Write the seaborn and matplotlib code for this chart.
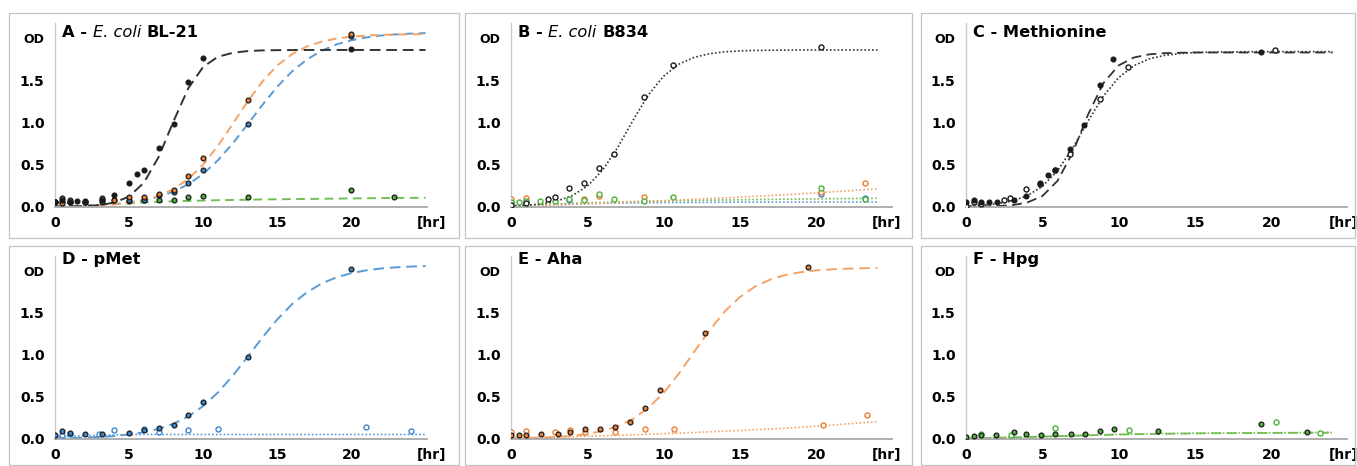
import matplotlib
matplotlib.use("Agg")
import matplotlib.pyplot as plt
import seaborn as sns
from matplotlib.offsetbox import TextArea, HPacker, AnchoredOffsetbox
from matplotlib.patches import Rectangle

# ---------------- data ----------------
fit_t25 = list(range(26))   # panels A, D fitted curves
fit_t24 = list(range(25))   # panels B, C, E, F fitted curves

# A - E. coli BL-21 (filled markers)
a_met_t = [0, 0.5, 1, 1.5, 2, 3.2, 4, 5, 5.5, 6, 7, 8, 9, 10, 20]
a_met_od = [0.05, 0.08, 0.05, 0.07, 0.07, 0.08, 0.14, 0.28, 0.39, 0.43, 0.70, 0.98, 1.48, 1.77, 1.87]
a_aha_t = [0, 0.5, 1, 2, 3.2, 4, 5, 6, 7, 8, 9, 10, 13, 20]
a_aha_od = [0.05, 0.04, 0.05, 0.06, 0.08, 0.08, 0.11, 0.11, 0.15, 0.20, 0.36, 0.58, 1.27, 2.05]
a_pmet_t = [0, 0.5, 1, 2, 3.2, 5, 6, 7, 8, 9, 10, 13, 20]
a_pmet_od = [0.05, 0.10, 0.08, 0.06, 0.10, 0.08, 0.08, 0.14, 0.17, 0.28, 0.43, 0.98, 2.03]
a_hpg_t = [0, 0.5, 1, 2, 3.2, 4, 5, 6, 7, 8, 9, 10, 13, 20, 22.9]
a_hpg_od = [0.05, 0.05, 0.06, 0.06, 0.06, 0.08, 0.07, 0.08, 0.08, 0.08, 0.12, 0.13, 0.12, 0.20, 0.11]
a_met_fit = [0.001, 0.003, 0.008, 0.019, 0.049, 0.121, 0.285, 0.593, 1.015, 1.408, 1.66, 1.78, 1.826,
             1.847, 1.855, 1.858, 1.859, 1.86, 1.86, 1.86, 1.86, 1.86, 1.86, 1.86, 1.86, 1.86]
a_aha_fit = [0.0035, 0.0059, 0.0099, 0.0167, 0.028, 0.047, 0.078, 0.129, 0.208, 0.33, 0.50, 0.725, 0.985,
             1.25, 1.487, 1.676, 1.811, 1.902, 1.96, 1.996, 2.018, 2.03, 2.039, 2.043, 2.046, 2.048]
a_pmet_fit = [0.0053, 0.0084, 0.013, 0.0204, 0.0318, 0.0494, 0.0764, 0.118, 0.179, 0.267, 0.39, 0.552, 0.753,
              0.977, 1.209, 1.424, 1.606, 1.747, 1.852, 1.926, 1.975, 2.009, 2.031, 2.045, 2.054, 2.06]
a_hpg_fit = [0.005, 0.008, 0.013, 0.02, 0.03, 0.04, 0.05, 0.058, 0.064, 0.069, 0.073, 0.077, 0.08,
             0.083, 0.086, 0.088, 0.09, 0.092, 0.094, 0.096, 0.098, 0.1, 0.102, 0.104, 0.105, 0.106]

# B - E. coli B834 (open markers)
b_met_t = [0, 1, 2.4, 2.9, 3.8, 4.8, 5.75, 6.75, 8.7, 10.6, 20.3]
b_met_od = [0.02, 0.04, 0.09, 0.11, 0.22, 0.28, 0.46, 0.63, 1.30, 1.68, 1.89]
b_aha_t = [0, 1, 4.8, 5.75, 8.7, 20.3, 23.2]
b_aha_od = [0.09, 0.10, 0.09, 0.13, 0.12, 0.17, 0.285]
b_hpg_t = [0, 0.5, 1, 1.9, 2.9, 3.8, 4.8, 5.75, 6.75, 8.7, 10.6, 20.3, 23.2]
b_hpg_od = [0.05, 0.05, 0.07, 0.07, 0.07, 0.09, 0.08, 0.15, 0.09, 0.07, 0.12, 0.225, 0.09]
b_pmet_t = [0, 1, 3.8, 20.3, 23.2]
b_pmet_od = [0.05, 0.05, 0.08, 0.15, 0.10]
b_met_fit = [0.0085, 0.017, 0.034, 0.067, 0.130, 0.244, 0.434, 0.707, 1.028, 1.328, 1.55, 1.692, 1.773,
             1.815, 1.838, 1.849, 1.854, 1.857, 1.858, 1.86, 1.86, 1.86, 1.86, 1.86, 1.86]
b_aha_fit = [0.01, 0.015, 0.02, 0.025, 0.03, 0.037, 0.043, 0.05, 0.057, 0.064, 0.072, 0.08, 0.088,
             0.096, 0.105, 0.114, 0.123, 0.133, 0.143, 0.153, 0.164, 0.176, 0.188, 0.2, 0.213]
b_hpg_fit = [0.01, 0.018, 0.026, 0.033, 0.04, 0.046, 0.051, 0.056, 0.06, 0.064, 0.068, 0.071, 0.074,
             0.077, 0.08, 0.082, 0.085, 0.087, 0.089, 0.091, 0.093, 0.095, 0.097, 0.098, 0.1]
b_pmet_fit = [0.005, 0.01, 0.017, 0.024, 0.03, 0.035, 0.039, 0.042, 0.045, 0.047, 0.049, 0.05, 0.051,
              0.052, 0.053, 0.054, 0.054, 0.055, 0.055, 0.055, 0.056, 0.056, 0.056, 0.056, 0.056]

# C - Methionine
c_bl21_t = [0, 0.5, 1, 1.5, 2, 3.15, 3.9, 4.85, 5.35, 5.85, 6.8, 7.75, 8.75, 9.65, 19.3]
c_bl21_od = [0.05, 0.08, 0.05, 0.06, 0.06, 0.08, 0.13, 0.28, 0.38, 0.44, 0.69, 0.97, 1.45, 1.75, 1.84]
c_b834_t = [0, 0.5, 1, 2.5, 2.9, 3.9, 4.85, 5.85, 6.8, 8.75, 10.6, 20.25]
c_b834_od = [0.01, 0.06, 0.03, 0.08, 0.10, 0.21, 0.27, 0.43, 0.62, 1.28, 1.66, 1.86]
c_bl21_fit = [0.0009, 0.0025, 0.0068, 0.018, 0.049, 0.126, 0.308, 0.649, 1.096, 1.468, 1.677, 1.771, 1.808,
              1.822, 1.827, 1.83, 1.83, 1.83, 1.83, 1.83, 1.83, 1.83, 1.83, 1.83, 1.83]
c_b834_fit = [0.0085, 0.017, 0.034, 0.066, 0.129, 0.241, 0.429, 0.699, 1.017, 1.314, 1.533, 1.674, 1.754,
              1.796, 1.818, 1.829, 1.834, 1.837, 1.838, 1.84, 1.84, 1.84, 1.84, 1.84, 1.84]

# D - pMet
d_bl21_t = [0, 0.5, 1, 2, 3.2, 5, 6, 7, 8, 9, 10, 13, 20]
d_bl21_od = [0.05, 0.09, 0.07, 0.06, 0.06, 0.07, 0.10, 0.13, 0.16, 0.28, 0.44, 0.98, 2.02]
d_b834_t = [0.5, 1, 3, 4, 6, 7, 9, 11, 21, 24]
d_b834_od = [0.04, 0.06, 0.06, 0.10, 0.12, 0.08, 0.10, 0.11, 0.14, 0.09]
d_bl21_fit = [0.0053, 0.0084, 0.013, 0.0204, 0.0318, 0.0494, 0.0764, 0.118, 0.179, 0.267, 0.39, 0.552, 0.753,
              0.977, 1.209, 1.424, 1.606, 1.747, 1.852, 1.926, 1.975, 2.009, 2.031, 2.045, 2.054, 2.06]
d_b834_fit = [0.02, 0.03, 0.035, 0.04, 0.045, 0.048, 0.05, 0.05, 0.05, 0.05, 0.05, 0.05, 0.05,
              0.05, 0.05, 0.05, 0.05, 0.05, 0.05, 0.05, 0.05, 0.05, 0.05, 0.05, 0.05, 0.05]

# E - Aha
e_bl21_t = [0, 0.5, 1, 1.95, 3.1, 3.85, 4.85, 5.8, 6.8, 7.8, 8.75, 9.75, 12.7, 19.45]
e_bl21_od = [0.05, 0.04, 0.05, 0.06, 0.06, 0.08, 0.11, 0.12, 0.14, 0.20, 0.37, 0.58, 1.26, 2.05]
e_b834_t = [0, 1, 2.9, 3.85, 4.85, 6.8, 8.75, 10.7, 20.4, 23.3]
e_b834_od = [0.08, 0.09, 0.08, 0.10, 0.08, 0.08, 0.11, 0.11, 0.16, 0.28]
e_bl21_fit = [0.0043, 0.0072, 0.0121, 0.0202, 0.0336, 0.0553, 0.0915, 0.149, 0.237, 0.369, 0.548, 0.779,
              1.038, 1.294, 1.519, 1.692, 1.818, 1.901, 1.955, 1.988, 2.009, 2.021, 2.029, 2.034, 2.036]
e_b834_fit = [0.01, 0.013, 0.017, 0.021, 0.025, 0.03, 0.035, 0.04, 0.046, 0.053, 0.06, 0.067, 0.074,
              0.082, 0.09, 0.098, 0.107, 0.116, 0.126, 0.137, 0.149, 0.162, 0.176, 0.19, 0.205]

# F - Hpg
f_bl21_t = [0, 0.5, 1, 1.95, 3.15, 3.9, 4.9, 5.85, 6.85, 7.8, 8.75, 9.7, 12.6, 19.35, 22.3]
f_bl21_od = [0.02, 0.03, 0.04, 0.04, 0.08, 0.06, 0.05, 0.06, 0.06, 0.06, 0.09, 0.11, 0.09, 0.18, 0.08]
f_b834_t = [1, 2.95, 5.85, 10.65, 20.3, 23.2]
f_b834_od = [0.06, 0.05, 0.13, 0.10, 0.20, 0.07]
f_bl21_fit = [0.0, 0.005, 0.01, 0.015, 0.02, 0.025, 0.03, 0.035, 0.04, 0.045, 0.05, 0.053, 0.056,
              0.059, 0.061, 0.063, 0.065, 0.066, 0.067, 0.068, 0.069, 0.07, 0.07, 0.071, 0.072]
f_b834_fit = [0.005, 0.009, 0.013, 0.017, 0.021, 0.026, 0.031, 0.036, 0.041, 0.046, 0.051, 0.055, 0.058,
              0.061, 0.063, 0.065, 0.067, 0.068, 0.069, 0.07, 0.071, 0.072, 0.073, 0.074, 0.075]

x_ticks = [0, 5, 10, 15, 20]
x_tick_labels = ["0", "5", "10", "15", "20"]
y_ticks = [0, 0.5, 1.0, 1.5, 2.0]
y_tick_labels = ["0.0", "0.5", "1.0", "1.5", "OD"]

# ---------------- style ----------------
sns.set_theme(style="white")
plt.rcParams["font.family"] = ["DejaVu Sans"]

BLACK = "#1a1a1a"
DARK = "#333333"
OR_L, OR_M = "#F5A267", "#ED7D31"
BL_L, BL_M = "#5B9BD5", "#3D86CF"
GR_L, GR_M = "#72BE55", "#4DAF3A"

W, H = 1357, 466
fig = plt.figure(figsize=(W / 100, H / 100), dpi=100)
fig.patch.set_facecolor("white")

col_axes = [(55, 427), (511, 892), (966, 1347)]
row_axes = [(23, 206.7), (256, 438.7)]
col_box = [(9, 459), (465, 912), (921, 1355)]
row_box = [(13, 238), (246, 465)]

for (bx0, bx1) in col_box:
    for (by0, by1) in row_box:
        fig.add_artist(Rectangle((bx0 / W, 1 - by1 / H), (bx1 - bx0) / W, (by1 - by0) / H,
                                 transform=fig.transFigure, fill=False,
                                 edgecolor="#c3c3c3", linewidth=0.9))


def make_ax(ci, ri):
    l, r = col_axes[ci]
    t, b = row_axes[ri]
    ax = fig.add_axes([l / W, 1 - b / H, (r - l) / W, (b - t) / H])
    ax.set_facecolor("none")
    return ax


def fit_line(ax, t, y, color, dashes, lw):
    sns.lineplot(x=t, y=y, ax=ax, color=color, linewidth=lw, estimator=None,
                 sort=False, legend=False, zorder=2)
    ln = ax.lines[-1]
    ln.set_dashes(dashes)
    ln.set_dash_capstyle("butt")


def points(ax, t, y, face, edge, hollow=False, s=12, lw=0.9):
    sns.scatterplot(x=t, y=y, ax=ax, s=s, color=face, edgecolor=edge,
                    linewidth=lw, legend=False, zorder=3)
    if hollow:
        ax.collections[-1].set_facecolor("white")


def finish(ax, xmax, hr_x, title_parts, ty, width_px):
    ax.set_xlim(0, xmax)
    ax.set_ylim(0, 2.18)
    ax.set_xticks(x_ticks)
    ax.set_xticklabels(x_tick_labels, fontweight="bold", fontsize=10, color="black")
    ax.set_yticks(y_ticks)
    ax.set_yticklabels(y_tick_labels, fontweight="bold", fontsize=10, color="black")
    ax.get_yticklabels()[-1].set_fontsize(9)
    ax.tick_params(axis="x", length=0, pad=6.5)
    ax.tick_params(axis="y", length=0, pad=7.5)
    ax.set_xlabel("")
    ax.set_ylabel("")
    ax.grid(False)
    for s in ["top", "right"]:
        ax.spines[s].set_visible(False)
    ax.spines["left"].set_color("#c8c8c8")
    ax.spines["left"].set_linewidth(1.0)
    ax.spines["bottom"].set_color("#a8a8a8")
    ax.spines["bottom"].set_linewidth(1.3)
    ax.annotate("[hr]", xy=(hr_x, 0), xycoords=("data", "axes fraction"),
                xytext=(0, -6.5), textcoords="offset points", ha="center", va="top",
                fontsize=10, fontweight="bold", color="black", annotation_clip=False)
    children = []
    for txt, style in title_parts:
        props = dict(fontsize=11.7, color="black")
        if style == "i":
            props["fontstyle"] = "italic"
            props["fontweight"] = "normal"
        else:
            props["fontweight"] = "bold"
        children.append(TextArea(txt, textprops=props))
    box = HPacker(children=children, align="baseline", pad=0, sep=4)
    anch = AnchoredOffsetbox(loc="center left", child=box, pad=0, borderpad=0, frameon=False,
                             bbox_to_anchor=(7 / width_px, ty), bbox_transform=ax.transAxes)
    ax.add_artist(anch)


DASH_K = (5.5, 3.0)
DASH_C = (4.5, 2.8)
DOT = (1.0, 1.3)

# ---- A ----
ax = make_ax(0, 0)
fit_line(ax, fit_t25, a_hpg_fit, GR_L, DASH_C, 1.4)
fit_line(ax, fit_t25, a_pmet_fit, BL_L, DASH_C, 1.4)
fit_line(ax, fit_t25, a_aha_fit, OR_L, DASH_C, 1.4)
fit_line(ax, fit_t25, a_met_fit, DARK, DASH_K, 1.4)
points(ax, a_hpg_t, a_hpg_od, GR_M, BLACK)
points(ax, a_pmet_t, a_pmet_od, BL_M, BLACK)
points(ax, a_aha_t, a_aha_od, OR_M, BLACK)
points(ax, a_met_t, a_met_od, BLACK, BLACK)
finish(ax, 25.1, 25.4, [("A -", "b"), ("E. coli", "i"), ("BL-21", "b")], 0.9456, 372)

# ---- B ----
ax = make_ax(1, 0)
fit_line(ax, fit_t24, b_pmet_fit, BL_L, DOT, 1.2)
fit_line(ax, fit_t24, b_hpg_fit, GR_L, DOT, 1.2)
fit_line(ax, fit_t24, b_aha_fit, OR_L, DOT, 1.2)
fit_line(ax, fit_t24, b_met_fit, DARK, DOT, 1.2)
points(ax, b_pmet_t, b_pmet_od, BL_M, BL_M, hollow=True, s=13, lw=1.0)
points(ax, b_aha_t, b_aha_od, OR_M, OR_M, hollow=True, s=13, lw=1.0)
points(ax, b_hpg_t, b_hpg_od, GR_M, GR_M, hollow=True, s=13, lw=1.0)
points(ax, b_met_t, b_met_od, BLACK, BLACK, hollow=True, s=13, lw=1.0)
finish(ax, 24.95, 24.6, [("B -", "b"), ("E. coli", "i"), ("B834", "b")], 0.9456, 381)

# ---- C ----
ax = make_ax(2, 0)
fit_line(ax, fit_t24, c_b834_fit, DARK, DOT, 1.2)
fit_line(ax, fit_t24, c_bl21_fit, DARK, DASH_K, 1.3)
points(ax, c_b834_t, c_b834_od, BLACK, BLACK, hollow=True, s=13, lw=1.0)
points(ax, c_bl21_t, c_bl21_od, BLACK, BLACK)
finish(ax, 24.95, 24.7, [("C - Methionine", "b")], 0.9456, 381)

# ---- D ----
ax = make_ax(0, 1)
fit_line(ax, fit_t25, d_b834_fit, BL_L, DOT, 1.2)
fit_line(ax, fit_t25, d_bl21_fit, BL_L, DASH_K, 1.4)
points(ax, d_b834_t, d_b834_od, BL_M, BL_M, hollow=True, s=13, lw=1.0)
points(ax, d_bl21_t, d_bl21_od, BL_M, BLACK)
finish(ax, 25.1, 25.4, [("D - pMet", "b")], 0.98, 372)

# ---- E ----
ax = make_ax(1, 1)
fit_line(ax, fit_t24, e_b834_fit, OR_L, DOT, 1.2)
fit_line(ax, fit_t24, e_bl21_fit, OR_L, DASH_K, 1.4)
points(ax, e_b834_t, e_b834_od, OR_M, OR_M, hollow=True, s=13, lw=1.0)
points(ax, e_bl21_t, e_bl21_od, OR_M, BLACK)
finish(ax, 24.95, 24.6, [("E - Aha", "b")], 0.98, 381)

# ---- F ----
ax = make_ax(2, 1)
fit_line(ax, fit_t24, f_b834_fit, GR_L, DOT, 1.2)
fit_line(ax, fit_t24, f_bl21_fit, GR_L, DASH_K, 1.3)
points(ax, f_b834_t, f_b834_od, GR_M, GR_M, hollow=True, s=13, lw=1.0)
points(ax, f_bl21_t, f_bl21_od, GR_M, BLACK)
finish(ax, 24.95, 24.7, [("F - Hpg", "b")], 0.98, 381)

fig.savefig("out.png", dpi=100, facecolor="white")
